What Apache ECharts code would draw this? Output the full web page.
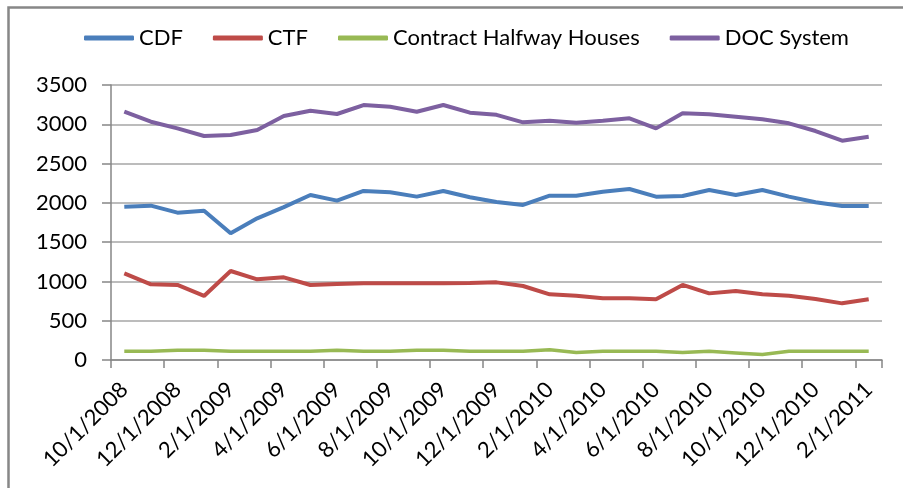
<!DOCTYPE html>
<html>
<head>
<meta charset="utf-8">
<script src="https://cdn.jsdelivr.net/npm/echarts@6/dist/echarts.min.js"></script>
<style>
html,body{margin:0;padding:0;background:#fff;}
#c{width:903px;height:488px;}
</style>
</head>
<body>
<div id="c"></div>
<script>
var categories = ["10/1/2008","11/1/2008","12/1/2008","1/1/2009","2/1/2009","3/1/2009","4/1/2009","5/1/2009","6/1/2009","7/1/2009","8/1/2009","9/1/2009","10/1/2009","11/1/2009","12/1/2009","1/1/2010","2/1/2010","3/1/2010","4/1/2010","5/1/2010","6/1/2010","7/1/2010","8/1/2010","9/1/2010","10/1/2010","11/1/2010","12/1/2010","1/1/2011","2/1/2011"];
var cdf = [1951,1964,1875,1900,1612,1803,1945,2100,2028,2151,2134,2079,2151,2071,2012,1973,2091,2091,2142,2176,2079,2087,2164,2100,2164,2079,2007,1960,1960];
var ctf = [1103,963,955,815,1133,1027,1052,955,967,976,976,976,976,980,988,942,836,819,785,785,772,955,848,878,836,819,776,721,772];
var halfway = [110,110,125,125,110,110,110,110,125,110,110,125,125,110,110,110,130,95,110,110,110,95,110,90,70,110,110,110,110];
var doc = [3160,3033,2948,2851,2864,2927,3105,3173,3131,3245,3224,3160,3245,3148,3120,3025,3046,3020,3046,3076,2948,3139,3127,3097,3063,3012,2914,2791,2842];
var seriesNames = ["CDF","CTF","Contract Halfway Houses","DOC System"];
var colors = ["#4a7ebb","#be4b48","#98b954","#7d60a0"];

var font = "Lato, 'Open Sans', sans-serif";
var chart = echarts.init(document.getElementById('c'));
function mk(name, data, color, w) {
  return {
    name: name, type: 'line', data: data, symbol: 'none', smooth: false,
    lineStyle: {color: color, width: w}, itemStyle: {color: color}
  };
}
chart.setOption({
  animation: false,
  color: colors,
  graphic: [{
    type: 'rect', left: 6, top: 5,
    shape: {x: 0, y: 0, width: 1000, height: 1000},
    style: {fill: 'none', stroke: '#878787', lineWidth: 2.5},
    silent: true
  }],
  legend: {
    left: 84, top: 27, padding: 0,
    itemWidth: 50, itemHeight: 5, itemGap: 30,
    icon: 'roundRect',
    textStyle: {fontFamily: font, fontSize: 22, color: '#000'},
    data: seriesNames
  },
  grid: {left: 111, right: 21, top: 85, bottom: 128, containLabel: false},
  xAxis: {
    type: 'category', data: categories, boundaryGap: true,
    axisLine: {lineStyle: {color: '#868686', width: 1.5}},
    axisTick: {show: true, interval: 1, length: 8, lineStyle: {color: '#868686', width: 1.5}},
    axisLabel: {interval: 1, rotate: 45, margin: 26, fontFamily: font, fontSize: 22, color: '#000'},
    splitLine: {show: false}
  },
  yAxis: {
    type: 'value', min: 0, max: 3500, interval: 500,
    axisLine: {show: true, lineStyle: {color: '#868686', width: 1.5}},
    axisTick: {show: true, inside: false, length: 9, lineStyle: {color: '#868686', width: 1.5}},
    axisLabel: {margin: 24, fontFamily: font, fontSize: 22, color: '#000', formatter: function (v) { return String(v); }},
    splitLine: {show: true, lineStyle: {color: '#a6a6a6', width: 1.5}}
  },
  series: [
    mk(seriesNames[0], cdf, colors[0], 4),
    mk(seriesNames[1], ctf, colors[1], 4),
    mk(seriesNames[2], halfway, colors[2], 3.5),
    mk(seriesNames[3], doc, colors[3], 4)
  ]
});
</script>
</body>
</html>
